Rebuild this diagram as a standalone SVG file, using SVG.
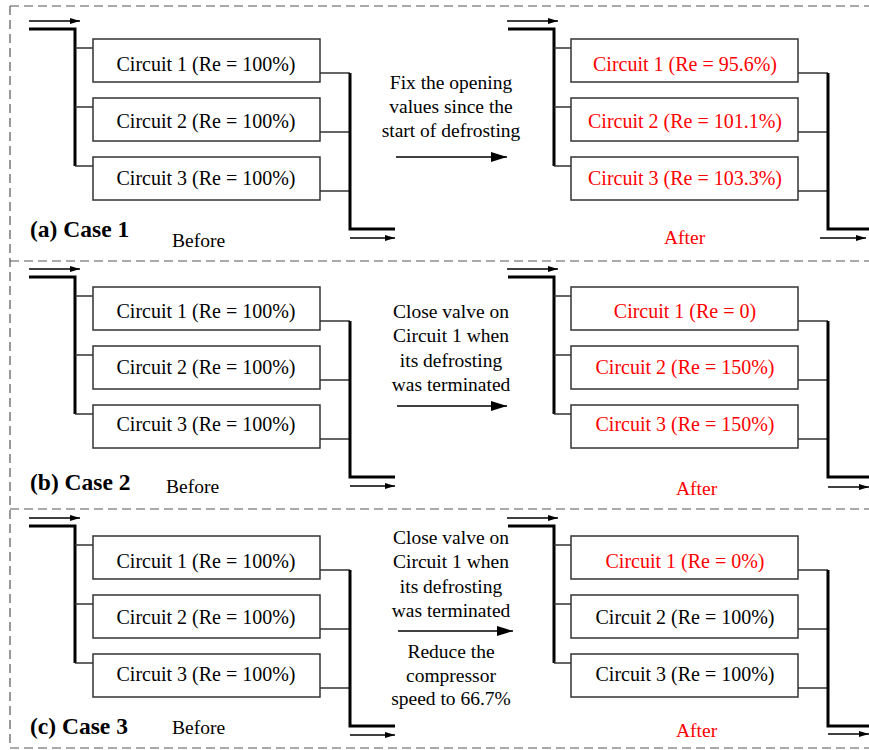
<svg xmlns="http://www.w3.org/2000/svg" width="869" height="750" viewBox="0 0 869 750">
<style>
.t{font-family:"Liberation Serif","Times New Roman",serif;font-size:19.5px;fill:#000}
.c{font-size:20px}
.r{fill:#ff0000}
.m{text-anchor:middle}
.b{font-family:"Liberation Serif","Times New Roman",serif;font-size:23.5px;font-weight:bold;fill:#000}
.box{fill:#fff;stroke:#333;stroke-width:1.5}
.thin{fill:none;stroke:#333;stroke-width:1.3}
.thick{fill:none;stroke:#000;stroke-width:3}
.arr{fill:none;stroke:#000;stroke-width:1.3;marker-end:url(#ah)}
.big{fill:none;stroke:#000;stroke-width:1.5;marker-end:url(#ahb)}
.dash{fill:none;stroke:#555;stroke-width:1.2;stroke-dasharray:9,5}
</style>
<defs>
<marker id="ah" markerWidth="10" markerHeight="6" refX="10" refY="3" orient="auto" markerUnits="userSpaceOnUse"><path d="M0,0 L10,3 L0,6 Z" fill="#000"/></marker>
<marker id="ahb" markerWidth="16" markerHeight="10" refX="16" refY="5" orient="auto" markerUnits="userSpaceOnUse"><path d="M0,0 L16,5 L0,10 Z" fill="#000"/></marker>
</defs>
<rect width="869" height="750" fill="#fff"/>
<g id="frame">
<path class="dash" d="M10,6 H869 M10,6 V748 H869 M10,261 H869 M10,509 H869"/>
</g>

<g id="connectors">
<g>
<path class="arr" d="M29,21 H80"/>
<path class="thick" d="M29,29 H75 V166"/>
<path class="thin" d="M75,48 H93 M75,107 H93 M75,166 H93"/>
<path class="thin" d="M320,73 H350 M320,132 H350 M320,191 H350"/>
<path class="thick" d="M350,73 V229 H395"/>
<path class="arr" d="M350,238 H395"/>
<path class="big" d="M396,157 H507"/>
<path class="arr" d="M507,21 H558"/>
<path class="thick" d="M508,29 H554 V166"/>
<path class="thin" d="M554,48 H571 M554,107 H571 M554,166 H571"/>
<path class="thin" d="M798,73 H828 M798,132 H828 M798,191 H828"/>
<path class="thick" d="M828,73 V229 H869"/>
<path class="arr" d="M820,238 H866"/>
</g>
<g transform="translate(0,248)">
<path class="arr" d="M29,21 H80"/>
<path class="thick" d="M29,29 H75 V166"/>
<path class="thin" d="M75,48 H93 M75,107 H93 M75,166 H93"/>
<path class="thin" d="M320,73 H350 M320,132 H350 M320,191 H350"/>
<path class="thick" d="M350,73 V229 H395"/>
<path class="arr" d="M350,238 H395"/>
<path class="big" d="M397,158 H507"/>
<path class="arr" d="M507,21 H558"/>
<path class="thick" d="M508,29 H554 V166"/>
<path class="thin" d="M554,48 H571 M554,107 H571 M554,166 H571"/>
<path class="thin" d="M798,73 H828 M798,132 H828 M798,191 H828"/>
<path class="thick" d="M828,73 V229 H869"/>
<path class="arr" d="M828,239 H869"/>
</g>
<g transform="translate(0,497)">
<path class="arr" d="M29,21 H80"/>
<path class="thick" d="M29,29 H75 V166"/>
<path class="thin" d="M75,48 H93 M75,107 H93 M75,166 H93"/>
<path class="thin" d="M320,73 H350 M320,132 H350 M320,191 H350"/>
<path class="thick" d="M350,73 V229 H395"/>
<path class="arr" d="M350,238 H395"/>
<path class="big" d="M398,134 H513"/>
<path class="arr" d="M507,21 H558"/>
<path class="thick" d="M508,29 H554 V166"/>
<path class="thin" d="M554,48 H571 M554,107 H571 M554,166 H571"/>
<path class="thin" d="M798,73 H828 M798,132 H828 M798,191 H828"/>
<path class="thick" d="M828,73 V229 H869"/>
<path class="arr" d="M828,237 H869"/>
</g>
</g>

<g id="c1-before-1"><rect class="box" x="93" y="39" width="227" height="43"/><text class="t c m" x="206" y="70.5">Circuit 1 (Re = 100%)</text></g>
<g id="c1-before-2"><rect class="box" x="93" y="98" width="227" height="43"/><text class="t c m" x="206" y="127.5">Circuit 2 (Re = 100%)</text></g>
<g id="c1-before-3"><rect class="box" x="93" y="157" width="227" height="43"/><text class="t c m" x="206" y="184.5">Circuit 3 (Re = 100%)</text></g>
<g id="c1-after-1"><rect class="box" x="571" y="39" width="227" height="43"/><text class="t c r m" x="685" y="70.5">Circuit 1 (Re = 95.6%)</text></g>
<g id="c1-after-2"><rect class="box" x="571" y="98" width="227" height="43"/><text class="t c r m" x="685" y="127.5">Circuit 2 (Re = 101.1%)</text></g>
<g id="c1-after-3"><rect class="box" x="571" y="157" width="227" height="43"/><text class="t c r m" x="685" y="184.5">Circuit 3 (Re = 103.3%)</text></g>
<g id="c1-labels">
<text class="b" x="30" y="237">(a) Case 1</text>
<text class="t" x="172" y="247">Before</text>
<text class="t r" x="664" y="244">After</text>
<text class="t m" x="451" y="89">Fix the opening</text>
<text class="t m" x="451" y="113">values since the</text>
<text class="t m" x="451" y="137">start of defrosting</text>
</g>

<g id="c2-before-1"><rect class="box" x="93" y="287" width="227" height="43"/><text class="t c m" x="206" y="317.5">Circuit 1 (Re = 100%)</text></g>
<g id="c2-before-2"><rect class="box" x="93" y="346" width="227" height="43"/><text class="t c m" x="206" y="373.5">Circuit 2 (Re = 100%)</text></g>
<g id="c2-before-3"><rect class="box" x="93" y="405" width="227" height="43"/><text class="t c m" x="206" y="430.5">Circuit 3 (Re = 100%)</text></g>
<g id="c2-after-1"><rect class="box" x="571" y="287" width="227" height="43"/><text class="t c r m" x="685" y="317.5">Circuit 1 (Re = 0)</text></g>
<g id="c2-after-2"><rect class="box" x="571" y="346" width="227" height="43"/><text class="t c r m" x="685" y="373.5">Circuit 2 (Re = 150%)</text></g>
<g id="c2-after-3"><rect class="box" x="571" y="405" width="227" height="43"/><text class="t c r m" x="685" y="430.5">Circuit 3 (Re = 150%)</text></g>
<g id="c2-labels">
<text class="b" x="30" y="490">(b) Case 2</text>
<text class="t" x="166" y="493">Before</text>
<text class="t r" x="676" y="495">After</text>
<text class="t m" x="451" y="318">Close valve on</text>
<text class="t m" x="451" y="342">Circuit 1 when</text>
<text class="t m" x="451" y="367">its defrosting</text>
<text class="t m" x="451" y="391">was terminated</text>
</g>

<g id="c3-before-1"><rect class="box" x="93" y="536" width="227" height="43"/><text class="t c m" x="206" y="567.5">Circuit 1 (Re = 100%)</text></g>
<g id="c3-before-2"><rect class="box" x="93" y="595" width="227" height="43"/><text class="t c m" x="206" y="623.5">Circuit 2 (Re = 100%)</text></g>
<g id="c3-before-3"><rect class="box" x="93" y="654" width="227" height="43"/><text class="t c m" x="206" y="680.5">Circuit 3 (Re = 100%)</text></g>
<g id="c3-after-1"><rect class="box" x="571" y="536" width="227" height="43"/><text class="t c r m" x="685" y="567.5">Circuit 1 (Re = 0%)</text></g>
<g id="c3-after-2"><rect class="box" x="571" y="595" width="227" height="43"/><text class="t c m" x="685" y="623.5">Circuit 2 (Re = 100%)</text></g>
<g id="c3-after-3"><rect class="box" x="571" y="654" width="227" height="43"/><text class="t c m" x="685" y="680.5">Circuit 3 (Re = 100%)</text></g>
<g id="c3-labels">
<text class="b" x="30" y="734">(c) Case 3</text>
<text class="t" x="172" y="734">Before</text>
<text class="t r" x="676" y="737">After</text>
<text class="t m" x="451" y="544">Close valve on</text>
<text class="t m" x="451" y="568">Circuit 1 when</text>
<text class="t m" x="451" y="593">its defrosting</text>
<text class="t m" x="451" y="617">was terminated</text>
<text class="t m" x="451" y="658">Reduce the</text>
<text class="t m" x="451" y="682">compressor</text>
<text class="t m" x="451" y="705">speed to 66.7%</text>
</g>
</svg>
